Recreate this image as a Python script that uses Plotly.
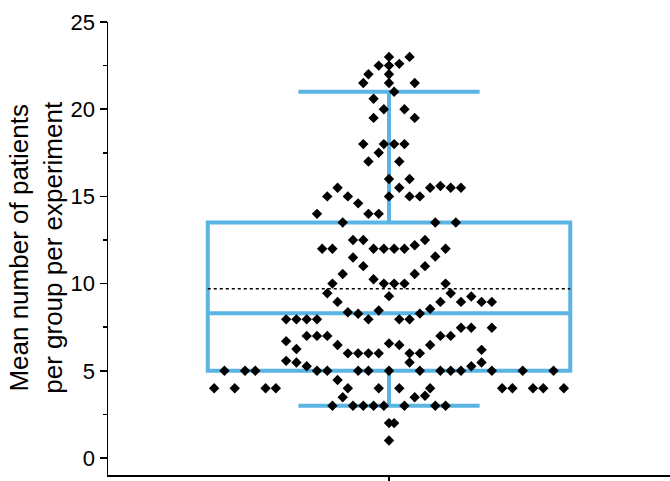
import plotly.graph_objects as go

# Beeswarm points: y values and horizontal slot (in units of point spacing)
values = [
    23.0, 23.0, 22.5, 22.5, 22.6, 22.0, 22.0, 21.5, 21.5, 21.5,
    21.0, 20.6, 20.0, 20.0, 19.5, 19.5, 18.0, 18.0, 18.0, 18.0,
    17.5, 17.0, 17.0, 16.0, 16.0, 15.5, 15.5, 15.5, 15.6, 15.5,
    15.5, 15.0, 15.0, 15.0, 15.0, 15.0, 14.6, 14.0, 14.0, 14.0,
    13.5, 13.5, 13.5, 12.5, 12.5, 12.5, 12.2, 12.0, 12.0, 12.0,
    12.0, 12.0, 12.0, 12.0, 11.5, 11.55, 11.0, 11.0, 10.55, 10.55,
    10.25, 10.0, 10.0, 10.0, 10.0, 10.0, 9.45, 9.28, 9.45, 9.26,
    8.95, 8.95, 8.95, 8.95, 8.95, 8.55, 8.36, 8.27, 8.46, 8.28,
    7.95, 7.95, 7.95, 7.95, 7.95, 7.95, 7.95, 7.47, 7.47, 7.47,
    7.0, 7.0, 7.0, 7.0, 7.0, 6.7, 6.25, 6.48, 6.57, 6.48,
    6.48, 6.0, 6.0, 6.0, 6.0, 6.0, 6.0, 6.2, 5.57, 5.48,
    5.26, 5.48, 5.48, 5.26,
    5.0, 5.0, 5.0, 5.0, 5.0, 5.0, 5.0, 5.0, 5.0, 5.0, 5.0, 5.0, 5.0, 5.0, 5.0,
    4.47,
    4.0, 4.0, 4.0, 4.0, 4.0, 4.0, 4.0, 4.0, 4.0, 4.0, 4.0, 4.0, 4.0,
    3.48, 3.48, 3.57,
    3.0, 3.0, 3.0, 3.0, 3.0, 3.0, 3.0, 3.0,
    2.0, 2.0, 1.0,
]
slots = [
    0, 2, -1, 0, 1, -2, 0, -2.5, 0, 2.5,
    0.5, -1.5, -0.5, 1.5, -1.5, 2.5, -2.5, -0.5, 0.5, 1.5,
    -1, -2, 1, 0, 2, -5, 1, 4, 5, 6,
    7, -6, -4, 0, 2, 3, -3, -7, -2, -1,
    -4.5, 4.5, 6.5, -3.5, -2.5, 3.5, 2.5, -6.5, -5.5, -1.5,
    -0.5, 0.5, 1.5, 5.5, -3.5, 4.5, -2.5, 3.5, -4.5, 2.5,
    -1.5, -5.5, -0.5, 0.5, 1.5, 5.5, -6, 0, 6, 8,
    -5, 5, 7, 9, 10, 4, -4, -3, -1, 3,
    -2, 1, 2, -10, -9, -8, -7, 7, 8, 10,
    5, 6, -8, -7, -6, -10, -9, -5, 0, 1,
    4, -4, -3, -2, -1, 2, 3, 9, -10, -9,
    -8, 2, 9, 8,
    -16, -14, -13, -7, -6, -3, -2, 0, 3, 5, 6, 7, 10, 13, 16,
    -5,
    -17, -15, -12, -11, -4, -1, 1, 4, 11, 12, 14, 15, 17,
    -4.5, 2.5, 3.5,
    -5.5, -3.5, -2.5, -1.5, -0.5, 1.5, 4.5, 5.5,
    0, 0.5, 0,
]

# Box summary statistics
q1 = 5.0
median = 8.3
q3 = 13.5
lower_whisker = 3.0
upper_whisker = 21.0
mean_value = 9.7

y_title = "Mean number of patients<br>per group per experiment"
y_ticks = [0, 5, 10, 15, 20, 25]
y_minor_ticks = [2.5, 7.5, 12.5, 17.5, 22.5]

BLUE = "#5AB4E4"
STEP = 0.0366
BOX_W = 1.29

fig = go.Figure()

fig.add_trace(go.Box(
    x=[0], q1=[q1], median=[median], q3=[q3],
    lowerfence=[lower_whisker], upperfence=[upper_whisker],
    width=BOX_W, whiskerwidth=0.5,
    line=dict(color=BLUE, width=4),
    fillcolor="rgba(0,0,0,0)",
    boxpoints=False, showlegend=False, hoverinfo="skip",
))

fig.add_trace(go.Scatter(
    x=[-BOX_W / 2, BOX_W / 2], y=[mean_value, mean_value],
    mode="lines", line=dict(color="black", width=1.5, dash="dot"),
    showlegend=False, hoverinfo="skip",
))

fig.add_trace(go.Scatter(
    x=[s * STEP for s in slots], y=values,
    mode="markers",
    marker=dict(symbol="diamond", size=8, color="black"),
    showlegend=False,
))

FONT = "Liberation Sans, Arial, sans-serif"

fig.update_layout(
    width=670, height=481,
    margin=dict(l=108, r=0, t=22, b=6, autoexpand=False),
    plot_bgcolor="white", paper_bgcolor="white",
    font=dict(family=FONT, color="black"),
    xaxis=dict(
        range=[-1, 1], showgrid=False, zeroline=False,
        showline=True, linecolor="black", linewidth=1.5,
        tickvals=[0], ticktext=[""], ticks="outside", ticklen=6,
        tickcolor="black", tickwidth=1.5, automargin=False,
    ),
    yaxis=dict(
        range=[-0.975, 25], showgrid=False, zeroline=False,
        showline=True, linecolor="black", linewidth=1.5,
        tickvals=y_ticks, ticks="outside", ticklen=7,
        tickcolor="black", tickwidth=1.5, automargin=False,
        tickfont=dict(size=22, family=FONT),
        minor=dict(tickvals=y_minor_ticks, ticks="outside",
                   ticklen=4, tickcolor="black", tickwidth=1.5),
    ),
    annotations=[dict(
        text=y_title, textangle=-90, showarrow=False,
        xref="paper", yref="paper", x=-0.127, y=0.503,
        xanchor="center", yanchor="middle", borderpad=0,
        font=dict(size=26, family=FONT, color="black"),
    )],
)

fig.write_html(
    "out.html",
    config={"displayModeBar": False, "staticPlot": True},
    post_script="document.body.style.margin='0';document.body.style.overflow='hidden';",
)
